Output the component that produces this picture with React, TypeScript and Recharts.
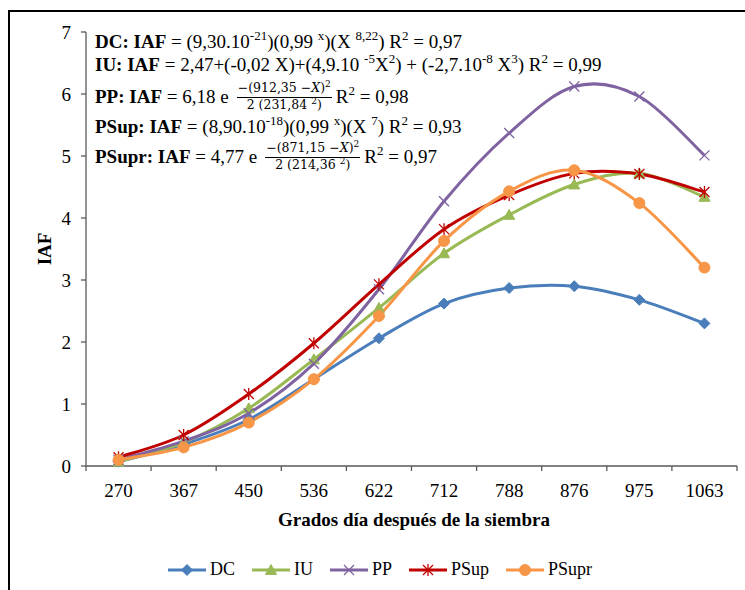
import React from 'react';
import { LineChart, Line, XAxis, YAxis } from 'recharts';

// Grados día después de la siembra (categorías)
const grados = ['270', '367', '450', '536', '622', '712', '788', '876', '975', '1063'];

// IAF por tratamiento
const dc = [0.07, 0.35, 0.75, 1.4, 2.06, 2.62, 2.87, 2.9, 2.68, 2.3];
const iu = [0.07, 0.38, 0.93, 1.72, 2.55, 3.43, 4.05, 4.54, 4.72, 4.34];
const pp = [0.1, 0.4, 0.85, 1.65, 2.85, 4.27, 5.37, 6.12, 5.96, 5.01];
const psup = [0.14, 0.5, 1.16, 1.98, 2.93, 3.82, 4.37, 4.72, 4.71, 4.42];
const psupr = [0.1, 0.3, 0.7, 1.4, 2.42, 3.63, 4.43, 4.77, 4.24, 3.2];

const yTicks = [0, 1, 2, 3, 4, 5, 6, 7];

const data = grados.map((g, i) => ({
  g,
  DC: dc[i],
  IU: iu[i],
  PP: pp[i],
  PSup: psup[i],
  PSupr: psupr[i],
}));

const SERIF = '"Liberation Serif", "Times New Roman", serif';
const MATH = '"DejaVu Serif", "Liberation Serif", serif';

const colors = {
  DC: '#4A7EBB',
  IU: '#98B954',
  PP: '#7F63A1',
  PSup: '#C00000',
  PSupr: '#F79646',
};

// Excel-like smoothed line (Catmull-Rom as cubic bezier)
const excelCurve = (context: any) => {
  let pts: number[][] = [];
  return {
    areaStart() {},
    areaEnd() {},
    lineStart() {
      pts = [];
    },
    point(x: number, y: number) {
      pts.push([+x, +y]);
    },
    lineEnd() {
      if (!pts.length) return;
      context.moveTo(pts[0][0], pts[0][1]);
      for (let i = 0; i < pts.length - 1; i++) {
        const p0 = pts[i - 1] || pts[i];
        const p1 = pts[i];
        const p2 = pts[i + 1];
        const p3 = pts[i + 2] || p2;
        context.bezierCurveTo(
          p1[0] + (p2[0] - p0[0]) / 6,
          p1[1] + (p2[1] - p0[1]) / 6,
          p2[0] - (p3[0] - p1[0]) / 6,
          p2[1] - (p3[1] - p1[1]) / 6,
          p2[0],
          p2[1]
        );
      }
    },
  };
};

const Marker = ({ kind, cx, cy }: { kind: string; cx: number; cy: number }) => {
  const c = (colors as any)[kind];
  if (kind === 'DC') {
    const s = 5.5;
    return <polygon points={`${cx},${cy - s} ${cx + s},${cy} ${cx},${cy + s} ${cx - s},${cy}`} fill={c} stroke={c} />;
  }
  if (kind === 'IU') {
    const s = 5.5;
    return <polygon points={`${cx},${cy - s} ${cx + s},${cy + s * 0.8} ${cx - s},${cy + s * 0.8}`} fill={c} stroke={c} />;
  }
  if (kind === 'PP') {
    const s = 5;
    return (
      <g stroke={c} strokeWidth={1.3}>
        <line x1={cx - s} y1={cy - s} x2={cx + s} y2={cy + s} />
        <line x1={cx - s} y1={cy + s} x2={cx + s} y2={cy - s} />
      </g>
    );
  }
  if (kind === 'PSup') {
    const s = 5;
    return (
      <g stroke={c} strokeWidth={1.3}>
        <line x1={cx - s} y1={cy - s} x2={cx + s} y2={cy + s} />
        <line x1={cx - s} y1={cy + s} x2={cx + s} y2={cy - s} />
        <line x1={cx} y1={cy - s - 1} x2={cx} y2={cy + s + 1} />
      </g>
    );
  }
  return <circle cx={cx} cy={cy} r={5.5} fill={c} stroke={c} />;
};

const dotFor = (kind: string) => (p: any) => (
  <Marker key={`${kind}-${p.index}`} kind={kind} cx={p.cx} cy={p.cy} />
);

const BAND = 65.1;

const XTick = (props: any) => {
  const { x, y, payload, index } = props;
  const last = index === grados.length - 1;
  return (
    <g>
      <line x1={x - BAND / 2} y1={y} x2={x - BAND / 2} y2={y + 5} stroke="#595959" strokeWidth={1.3} />
      {last && <line x1={x + BAND / 2} y1={y} x2={x + BAND / 2} y2={y + 5} stroke="#595959" strokeWidth={1.3} />}
      <text x={x} y={y + 31} textAnchor="middle" fontFamily={SERIF} fontSize={19} fill="#000">
        {payload.value}
      </text>
    </g>
  );
};

const Frac = ({ num, den }: { num: React.ReactNode; den: React.ReactNode }) => (
  <span
    style={{
      display: 'inline-flex',
      flexDirection: 'column',
      alignItems: 'center',
      verticalAlign: 'middle',
      fontFamily: MATH,
      fontSize: 12.5,
      lineHeight: '14px',
      margin: '0 4px 0 8px',
      position: 'relative',
      top: -2,
    }}
  >
    <span style={{ borderBottom: '1.5px solid #000', padding: '0 1px 1px' }}>{num}</span>
    <span>{den}</span>
  </span>
);

const sup = (t: string) => (
  <span style={{ fontSize: 13, position: 'relative', top: -8 }}>{t}</span>
);
const sup2 = (t: string) => (
  <span style={{ fontSize: 9, position: 'relative', top: -5 }}>{t}</span>
);

const Eq = ({ top, children }: { top: number; children: React.ReactNode }) => (
  <div
    style={{
      position: 'absolute',
      left: 95,
      top,
      fontFamily: SERIF,
      fontSize: 19,
      lineHeight: '22px',
      whiteSpace: 'pre',
      color: '#000',
    }}
  >
    <span>{children}</span>
  </div>
);

const legendItems = ['DC', 'IU', 'PP', 'PSup', 'PSupr'];

export default function App() {
  return (
    <div style={{ position: 'fixed', left: 0, top: 0, width: 745, height: 590, overflow: 'hidden', background: '#fff' }}>
      <div
        style={{
          position: 'absolute',
          left: 8,
          top: 10,
          width: 800,
          height: 800,
          borderLeft: '2px solid #000',
          borderTop: '2px solid #000',
        }}
      />
      <div style={{ position: 'absolute', left: 0, top: 0 }}>
        <LineChart width={745} height={590} data={data} margin={{ top: 32, right: 8, left: 46, bottom: 94 }}>
          <XAxis
            dataKey="g"
            interval={0}
            tickSize={0}
            tickMargin={0}
            tickLine={false}
            height={30}
            padding={{ left: BAND / 2, right: BAND / 2 }}
            stroke="#595959"
            strokeWidth={1.3}
            tick={<XTick />}
          />
          <YAxis
            domain={[0, 7]}
            ticks={yTicks}
            width={40}
            tickSize={5}
            tickMargin={10}
            stroke="#595959"
            strokeWidth={1.3}
            tick={{ fontFamily: SERIF, fontSize: 19, fill: '#000' }}
          />
          {legendItems.map((k) => (
            <Line
              key={k}
              dataKey={k}
              stroke={(colors as any)[k]}
              strokeWidth={3}
              type={excelCurve as any}
              dot={dotFor(k)}
              activeDot={false}
              isAnimationActive={false}
            />
          ))}
        </LineChart>
      </div>

      {/* axis titles */}
      <div
        style={{
          position: 'absolute',
          left: 45,
          top: 249,
          transform: 'translate(-50%, -50%) rotate(-90deg)',
          fontFamily: SERIF,
          fontWeight: 'bold',
          fontSize: 19,
        }}
      >
        IAF
      </div>
      <div
        style={{
          position: 'absolute',
          left: 414,
          top: 520,
          transform: 'translate(-50%, -50%)',
          fontFamily: SERIF,
          fontWeight: 'bold',
          fontSize: 19,
          whiteSpace: 'nowrap',
        }}
      >
        Grados día después de la siembra
      </div>

      {/* ecuaciones */}
      <Eq top={31}>
        <b>DC: IAF</b> = (9,30.10{sup('-21')})(0,99 {sup('x')})(X {sup('8,22')}) R{sup('2')} = 0,97
      </Eq>
      <Eq top={54}>
        <b>IU: IAF</b> = 2,47+(-0,02 X)+(4,9.10 {sup('-5')}X{sup('2')}) + (-2,7.10{sup('-8')} X{sup('3')}) R{sup('2')} = 0,99
      </Eq>
      <Eq top={83}>
        <b>PP: IAF</b> = 6,18 e
        <Frac num={<>−(912,35 −<i>X</i>){sup2('2')}</>} den={<>2 (231,84 {sup2('2')})</>} />
        R{sup('2')} = 0,98
      </Eq>
      <Eq top={116}>
        <b>PSup: IAF</b> = (8,90.10{sup('-18')})(0,99 {sup('x')})(X {sup('7')}) R{sup('2')} = 0,93
      </Eq>
      <Eq top={143}>
        <b>PSupr: IAF</b> = 4,77 e
        <Frac num={<>−(871,15 −<i>X</i>){sup2('2')}</>} den={<>2 (214,36 {sup2('2')})</>} />
        R{sup('2')} = 0,97
      </Eq>

      {/* leyenda */}
      <div style={{ position: 'absolute', left: 167, top: 559, display: 'flex', alignItems: 'center' }}>
        {legendItems.map((k) => (
          <div key={k} style={{ display: 'flex', alignItems: 'center', marginRight: 16 }}>
            <svg width={40} height={20}>
              <line x1={1} y1={10} x2={39} y2={10} stroke={(colors as any)[k]} strokeWidth={3} />
              <Marker kind={k} cx={20} cy={10} />
            </svg>
            <span style={{ fontFamily: SERIF, fontSize: 18, marginLeft: 3 }}>{k}</span>
          </div>
        ))}
      </div>
    </div>
  );
}
